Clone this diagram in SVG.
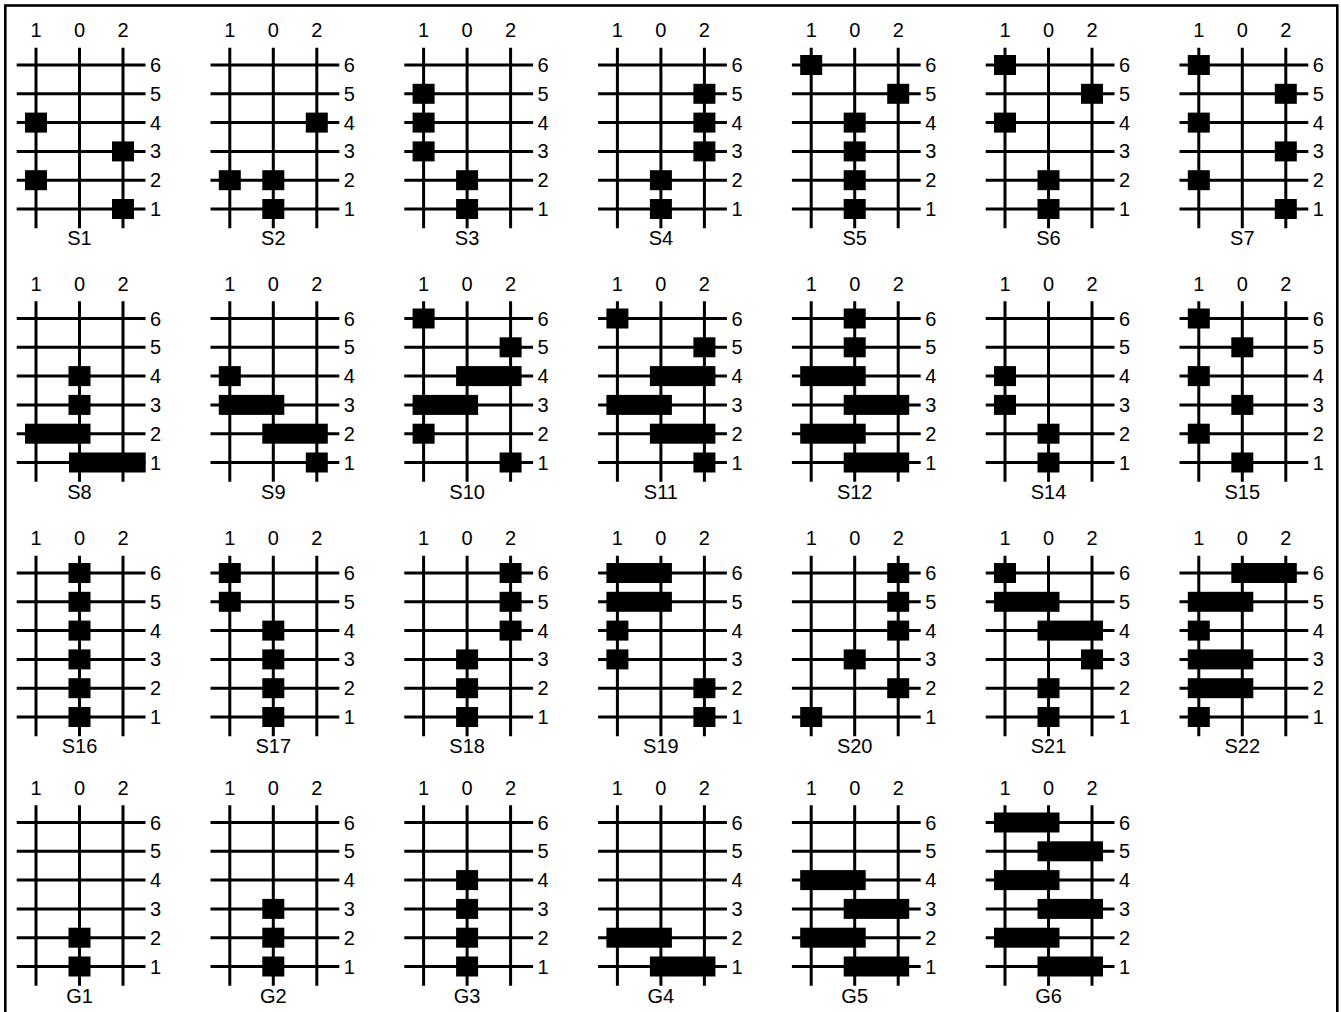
<svg xmlns="http://www.w3.org/2000/svg" xmlns:xlink="http://www.w3.org/1999/xlink" width="1341" height="1012" viewBox="0 0 1341 1012">
<style>
text{font-family:"Liberation Sans",Arial,sans-serif;font-size:20px;fill:#000}
.t{text-anchor:middle}
.ln{stroke:#000;stroke-width:3;fill:none}
.q{fill:#000}
</style>
<defs>
<g id="grid">
<path class="ln" d="M36 47.7V228.3M79.5 47.7V228.3M123 47.7V228.3M16.7 65H145.5M16.7 93.8H145.5M16.7 122.6H145.5M16.7 151.4H145.5M16.7 180.2H145.5M16.7 209H145.5"/>
<text class="t" x="36" y="37">1</text>
<text class="t" x="79.5" y="37">0</text>
<text class="t" x="123" y="37">2</text>
<text x="150" y="72">6</text>
<text x="150" y="100.8">5</text>
<text x="150" y="129.6">4</text>
<text x="150" y="158.4">3</text>
<text x="150" y="187.2">2</text>
<text x="150" y="216">1</text>
</g>
<rect id="s" class="q" width="22" height="20"/>
<rect id="w" class="q" width="65.5" height="20"/>
</defs>
<rect x="5.3" y="5.5" width="1332" height="1020" fill="#fff" stroke="#000" stroke-width="2.6"/>
<g id="connectors"></g>
<g id="S1" transform="translate(0,0)"><use xlink:href="#grid"/>
<use xlink:href="#s" x="25" y="112.6"/><use xlink:href="#s" x="112" y="141.4"/><use xlink:href="#s" x="25" y="170.2"/><use xlink:href="#s" x="112" y="199"/>
<text class="t" x="79.5" y="245">S1</text></g>
<g id="S2" transform="translate(193.8,0)"><use xlink:href="#grid"/>
<use xlink:href="#s" x="112" y="112.6"/><use xlink:href="#s" x="25" y="170.2"/><use xlink:href="#s" x="68.5" y="170.2"/><use xlink:href="#s" x="68.5" y="199"/>
<text class="t" x="79.5" y="245">S2</text></g>
<g id="S3" transform="translate(387.6,0)"><use xlink:href="#grid"/>
<use xlink:href="#s" x="25" y="83.8"/><use xlink:href="#s" x="25" y="112.6"/><use xlink:href="#s" x="25" y="141.4"/><use xlink:href="#s" x="68.5" y="170.2"/><use xlink:href="#s" x="68.5" y="199"/>
<text class="t" x="79.5" y="245">S3</text></g>
<g id="S4" transform="translate(581.4,0)"><use xlink:href="#grid"/>
<use xlink:href="#s" x="112" y="83.8"/><use xlink:href="#s" x="112" y="112.6"/><use xlink:href="#s" x="112" y="141.4"/><use xlink:href="#s" x="68.5" y="170.2"/><use xlink:href="#s" x="68.5" y="199"/>
<text class="t" x="79.5" y="245">S4</text></g>
<g id="S5" transform="translate(775.2,0)"><use xlink:href="#grid"/>
<use xlink:href="#s" x="25" y="55"/><use xlink:href="#s" x="112" y="83.8"/><use xlink:href="#s" x="68.5" y="112.6"/><use xlink:href="#s" x="68.5" y="141.4"/><use xlink:href="#s" x="68.5" y="170.2"/><use xlink:href="#s" x="68.5" y="199"/>
<text class="t" x="79.5" y="245">S5</text></g>
<g id="S6" transform="translate(969,0)"><use xlink:href="#grid"/>
<use xlink:href="#s" x="25" y="55"/><use xlink:href="#s" x="112" y="83.8"/><use xlink:href="#s" x="25" y="112.6"/><use xlink:href="#s" x="68.5" y="170.2"/><use xlink:href="#s" x="68.5" y="199"/>
<text class="t" x="79.5" y="245">S6</text></g>
<g id="S7" transform="translate(1162.8,0)"><use xlink:href="#grid"/>
<use xlink:href="#s" x="25" y="55"/><use xlink:href="#s" x="112" y="83.8"/><use xlink:href="#s" x="25" y="112.6"/><use xlink:href="#s" x="112" y="141.4"/><use xlink:href="#s" x="25" y="170.2"/><use xlink:href="#s" x="112" y="199"/>
<text class="t" x="79.5" y="245">S7</text></g>

<g id="S8" transform="translate(0,253.5)"><use xlink:href="#grid"/>
<use xlink:href="#s" x="68.5" y="112.6"/><use xlink:href="#s" x="68.5" y="141.4"/><use xlink:href="#w" x="25" y="170.2"/><rect class="q" x="69" y="199" width="76.7" height="20"/>
<text class="t" x="79.5" y="245">S8</text></g>
<g id="S9" transform="translate(193.8,253.5)"><use xlink:href="#grid"/>
<use xlink:href="#s" x="25" y="112.6"/><use xlink:href="#w" x="25" y="141.4"/><use xlink:href="#w" x="68.5" y="170.2"/><use xlink:href="#s" x="112" y="199"/>
<text class="t" x="79.5" y="245">S9</text></g>
<g id="S10" transform="translate(387.6,253.5)"><use xlink:href="#grid"/>
<use xlink:href="#s" x="25" y="55"/><use xlink:href="#s" x="112" y="83.8"/><use xlink:href="#w" x="68.5" y="112.6"/><use xlink:href="#w" x="25" y="141.4"/><use xlink:href="#s" x="25" y="170.2"/><use xlink:href="#s" x="112" y="199"/>
<text class="t" x="79.5" y="245">S10</text></g>
<g id="S11" transform="translate(581.4,253.5)"><use xlink:href="#grid"/>
<use xlink:href="#s" x="25" y="55"/><use xlink:href="#s" x="112" y="83.8"/><use xlink:href="#w" x="68.5" y="112.6"/><use xlink:href="#w" x="25" y="141.4"/><use xlink:href="#w" x="68.5" y="170.2"/><use xlink:href="#s" x="112" y="199"/>
<text class="t" x="79.5" y="245">S11</text></g>
<g id="S12" transform="translate(775.2,253.5)"><use xlink:href="#grid"/>
<use xlink:href="#s" x="68.5" y="55"/><use xlink:href="#s" x="68.5" y="83.8"/><use xlink:href="#w" x="25" y="112.6"/><use xlink:href="#w" x="68.5" y="141.4"/><use xlink:href="#w" x="25" y="170.2"/><use xlink:href="#w" x="68.5" y="199"/>
<text class="t" x="79.5" y="245">S12</text></g>
<g id="S14" transform="translate(969,253.5)"><use xlink:href="#grid"/>
<use xlink:href="#s" x="25" y="112.6"/><use xlink:href="#s" x="25" y="141.4"/><use xlink:href="#s" x="68.5" y="170.2"/><use xlink:href="#s" x="68.5" y="199"/>
<text class="t" x="79.5" y="245">S14</text></g>
<g id="S15" transform="translate(1162.8,253.5)"><use xlink:href="#grid"/>
<use xlink:href="#s" x="25" y="55"/><use xlink:href="#s" x="68.5" y="83.8"/><use xlink:href="#s" x="25" y="112.6"/><use xlink:href="#s" x="68.5" y="141.4"/><use xlink:href="#s" x="25" y="170.2"/><use xlink:href="#s" x="68.5" y="199"/>
<text class="t" x="79.5" y="245">S15</text></g>

<g id="S16" transform="translate(0,508)"><use xlink:href="#grid"/>
<use xlink:href="#s" x="68.5" y="55"/><use xlink:href="#s" x="68.5" y="83.8"/><use xlink:href="#s" x="68.5" y="112.6"/><use xlink:href="#s" x="68.5" y="141.4"/><use xlink:href="#s" x="68.5" y="170.2"/><use xlink:href="#s" x="68.5" y="199"/>
<text class="t" x="79.5" y="245">S16</text></g>
<g id="S17" transform="translate(193.8,508)"><use xlink:href="#grid"/>
<use xlink:href="#s" x="25" y="55"/><use xlink:href="#s" x="25" y="83.8"/><use xlink:href="#s" x="68.5" y="112.6"/><use xlink:href="#s" x="68.5" y="141.4"/><use xlink:href="#s" x="68.5" y="170.2"/><use xlink:href="#s" x="68.5" y="199"/>
<text class="t" x="79.5" y="245">S17</text></g>
<g id="S18" transform="translate(387.6,508)"><use xlink:href="#grid"/>
<use xlink:href="#s" x="112" y="55"/><use xlink:href="#s" x="112" y="83.8"/><use xlink:href="#s" x="112" y="112.6"/><use xlink:href="#s" x="68.5" y="141.4"/><use xlink:href="#s" x="68.5" y="170.2"/><use xlink:href="#s" x="68.5" y="199"/>
<text class="t" x="79.5" y="245">S18</text></g>
<g id="S19" transform="translate(581.4,508)"><use xlink:href="#grid"/>
<use xlink:href="#w" x="25" y="55"/><use xlink:href="#w" x="25" y="83.8"/><use xlink:href="#s" x="25" y="112.6"/><use xlink:href="#s" x="25" y="141.4"/><use xlink:href="#s" x="112" y="170.2"/><use xlink:href="#s" x="112" y="199"/>
<text class="t" x="79.5" y="245">S19</text></g>
<g id="S20" transform="translate(775.2,508)"><use xlink:href="#grid"/>
<use xlink:href="#s" x="112" y="55"/><use xlink:href="#s" x="112" y="83.8"/><use xlink:href="#s" x="112" y="112.6"/><use xlink:href="#s" x="68.5" y="141.4"/><use xlink:href="#s" x="112" y="170.2"/><use xlink:href="#s" x="25" y="199"/>
<text class="t" x="79.5" y="245">S20</text></g>
<g id="S21" transform="translate(969,508)"><use xlink:href="#grid"/>
<use xlink:href="#s" x="25" y="55"/><use xlink:href="#w" x="25" y="83.8"/><use xlink:href="#w" x="68.5" y="112.6"/><use xlink:href="#s" x="112" y="141.4"/><use xlink:href="#s" x="68.5" y="170.2"/><use xlink:href="#s" x="68.5" y="199"/>
<text class="t" x="79.5" y="245">S21</text></g>
<g id="S22" transform="translate(1162.8,508)"><use xlink:href="#grid"/>
<use xlink:href="#w" x="68.5" y="55"/><use xlink:href="#w" x="25" y="83.8"/><use xlink:href="#s" x="25" y="112.6"/><use xlink:href="#w" x="25" y="141.4"/><use xlink:href="#w" x="25" y="170.2"/><use xlink:href="#s" x="25" y="199"/>
<text class="t" x="79.5" y="245">S22</text></g>

<g id="G1" transform="translate(0,757.5)"><use xlink:href="#grid"/>
<use xlink:href="#s" x="68.5" y="170.2"/><use xlink:href="#s" x="68.5" y="199"/>
<text class="t" x="79.5" y="245">G1</text></g>
<g id="G2" transform="translate(193.8,757.5)"><use xlink:href="#grid"/>
<use xlink:href="#s" x="68.5" y="141.4"/><use xlink:href="#s" x="68.5" y="170.2"/><use xlink:href="#s" x="68.5" y="199"/>
<text class="t" x="79.5" y="245">G2</text></g>
<g id="G3" transform="translate(387.6,757.5)"><use xlink:href="#grid"/>
<use xlink:href="#s" x="68.5" y="112.6"/><use xlink:href="#s" x="68.5" y="141.4"/><use xlink:href="#s" x="68.5" y="170.2"/><use xlink:href="#s" x="68.5" y="199"/>
<text class="t" x="79.5" y="245">G3</text></g>
<g id="G4" transform="translate(581.4,757.5)"><use xlink:href="#grid"/>
<use xlink:href="#w" x="25" y="170.2"/><use xlink:href="#w" x="68.5" y="199"/>
<text class="t" x="79.5" y="245">G4</text></g>
<g id="G5" transform="translate(775.2,757.5)"><use xlink:href="#grid"/>
<use xlink:href="#w" x="25" y="112.6"/><use xlink:href="#w" x="68.5" y="141.4"/><use xlink:href="#w" x="25" y="170.2"/><use xlink:href="#w" x="68.5" y="199"/>
<text class="t" x="79.5" y="245">G5</text></g>
<g id="G6" transform="translate(969,757.5)"><use xlink:href="#grid"/>
<use xlink:href="#w" x="25" y="55"/><use xlink:href="#w" x="68.5" y="83.8"/><use xlink:href="#w" x="25" y="112.6"/><use xlink:href="#w" x="68.5" y="141.4"/><use xlink:href="#w" x="25" y="170.2"/><use xlink:href="#w" x="68.5" y="199"/>
<text class="t" x="79.5" y="245">G6</text></g>
</svg>
